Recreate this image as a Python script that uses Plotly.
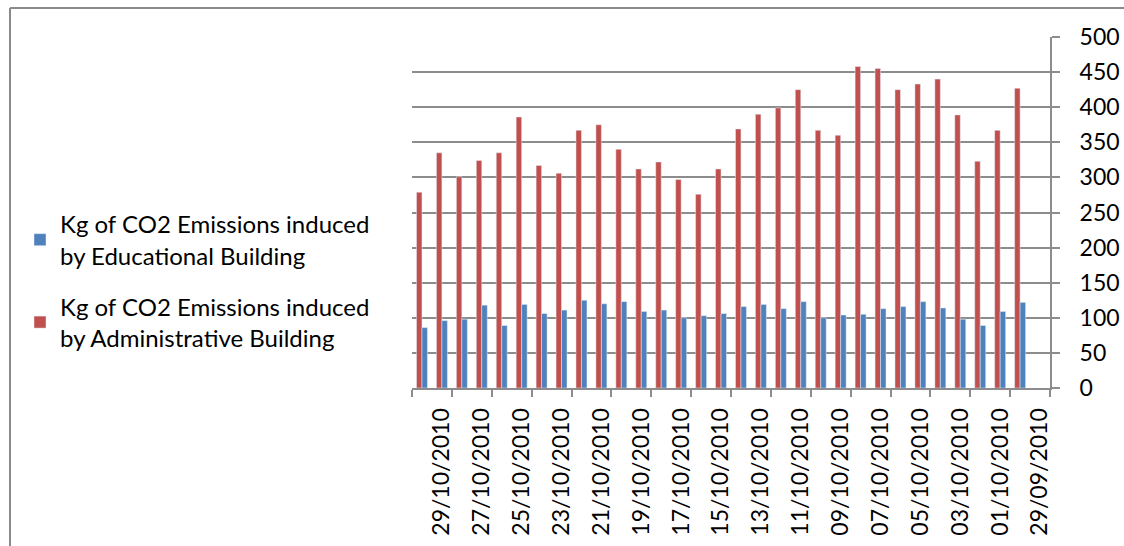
import plotly.graph_objects as go

# Daily CO2 emissions (kg), most recent day first
dates = [
    "30/10/2010", "29/10/2010", "28/10/2010", "27/10/2010", "26/10/2010",
    "25/10/2010", "24/10/2010", "23/10/2010", "22/10/2010", "21/10/2010",
    "20/10/2010", "19/10/2010", "18/10/2010", "17/10/2010", "16/10/2010",
    "15/10/2010", "14/10/2010", "13/10/2010", "12/10/2010", "11/10/2010",
    "10/10/2010", "09/10/2010", "08/10/2010", "07/10/2010", "06/10/2010",
    "05/10/2010", "04/10/2010", "03/10/2010", "02/10/2010", "01/10/2010",
    "30/09/2010", "29/09/2010",
]
educational = [
    86, 96, 98, 118, 89, 119, 106, 111, 125, 120,
    123, 109, 111, 100, 103, 106, 116, 119, 113, 123,
    100, 104, 105, 113, 116, 123, 114, 98, 89, 109,
    122, None,
]
administrative = [
    279, 335, 301, 324, 335, 386, 317, 306, 367, 375,
    340, 312, 322, 297, 276, 312, 369, 390, 399, 425,
    367, 360, 458, 455, 425, 433, 440, 389, 323, 367,
    427, None,
]

name_edu = "Kg of CO2 Emissions induced<br>by Educational Building"
name_adm = "Kg of CO2 Emissions induced<br>by Administrative Building"

BLUE = "#4F81BD"
RED = "#C0504D"
GRID = "#8C8C8C"
FONT = "Lato"

W, H = 1124, 546
ML, MR, MT, MB = 412, 74, 37, 158
PW, PH = W - ML - MR, H - MT - MB

pos = list(range(len(dates)))

fig = go.Figure()
# red first so it sits on the left of each cluster; legend lists blue first
fig.add_trace(go.Bar(x=pos, y=administrative, name=name_adm,
                     marker_color=RED, legendgroup="adm", legendrank=2))
fig.add_trace(go.Bar(x=pos, y=educational, name=name_edu,
                     marker_color=BLUE, legendgroup="edu", legendrank=1))


def px_x(p):
    return (p - ML) / PW


def px_y(p):
    return 1 - (p - MT) / PH


# outer chart frame (top and left edges)
fig.add_shape(type="line", xref="paper", yref="paper",
              x0=px_x(10), x1=px_x(1130), y0=px_y(8), y1=px_y(8),
              line=dict(color="#8A8A8A", width=2))
fig.add_shape(type="line", xref="paper", yref="paper",
              x0=px_x(10), x1=px_x(10), y0=px_y(8), y1=px_y(550),
              line=dict(color="#8A8A8A", width=2))

fig.update_layout(
    width=W, height=H,
    margin=dict(l=ML, r=MR, t=MT, b=MB, pad=0, autoexpand=False),
    paper_bgcolor="white", plot_bgcolor="white",
    barmode="group", bargap=0.45, bargroupgap=0,
    font=dict(family=FONT, color="black"),
    showlegend=True,
    legend=dict(
        traceorder="grouped",
        xref="container", yref="container",
        x=20 / W, y=1 - 202 / H, xanchor="left", yanchor="top",
        font=dict(size=24, family=FONT, color="black"),
        bgcolor="rgba(0,0,0,0)",
        tracegroupgap=17,
    ),
    xaxis=dict(
        range=[-0.5, len(dates) - 0.5],
        automargin=False,
        tickmode="array",
        tickvals=pos[1::2],
        ticktext=dates[1::2],
        tickangle=-90,
        ticks="",
        ticklabelstandoff=9,
        tickfont=dict(size=23, family=FONT, color="black"),
        showline=True, linecolor=GRID, linewidth=2,
        showgrid=False, zeroline=False,
        minor=dict(
            tickmode="array",
            tickvals=[p - 0.5 for p in pos[::2]] + [len(dates) - 0.5],
            ticks="outside", ticklen=7, tickwidth=2, tickcolor=GRID,
            showgrid=False,
        ),
    ),
    yaxis=dict(
        side="right",
        range=[0, 500],
        automargin=False,
        tick0=0, dtick=50,
        ticks="outside", ticklen=8, tickwidth=2, tickcolor=GRID,
        ticklabelstandoff=15,
        tickfont=dict(size=23, family=FONT, color="black"),
        showline=True, linecolor=GRID, linewidth=2,
        showgrid=True, gridcolor=GRID, gridwidth=2,
        zeroline=False,
    ),
)

fig.write_html("out.html")
